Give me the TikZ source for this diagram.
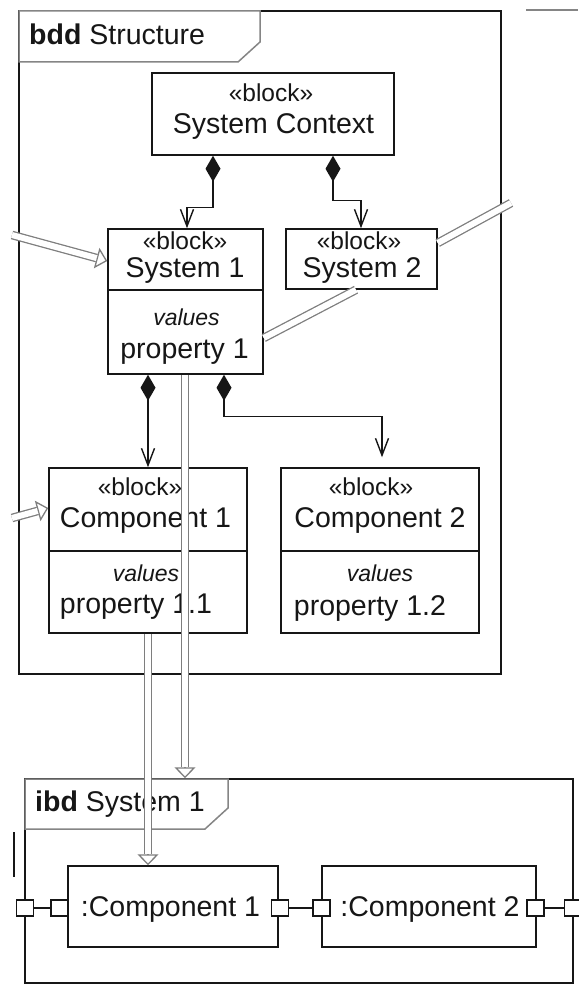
\documentclass[tikz,border=0pt]{standalone}
\usepackage{fontspec}
\setmainfont{Liberation Sans}
\usetikzlibrary{arrows.meta,calc}
\definecolor{ink}{HTML}{161616}
\definecolor{tabgray}{HTML}{858585}
\definecolor{dblgray}{HTML}{7E7E7E}
\begin{document}
\begin{tikzpicture}[x=1pt,y=-1pt,
  frame/.style={draw=ink, line width=1.5pt, rectangle, inner sep=0pt},
  box/.style={draw=ink, line width=1.5pt, rectangle, inner sep=0pt, fill=white},
  tab/.style={draw=tabgray, line width=1.5pt, fill=white},
  div/.style={draw=ink, line width=1.5pt},
  txt/.style={inner sep=0pt, anchor=base, text=ink, font=\fontsize{28.5}{32}\selectfont},
  stereo/.style={txt, font=\fontsize{24.5}{28}\selectfont},
  vals/.style={txt, font=\itshape\fontsize{23}{27}\selectfont},
  comp/.style={draw=ink, line width=1.4pt, arrows={Diamond[length=26pt,width=15pt]-Straight Barb[length=17pt,width=13pt]}},
  dbl/.style={draw=dblgray, line width=1.3pt, double=white, double distance=6pt},
  dblhead/.style={draw=dblgray, line width=1.3pt, line join=miter, -{Triangle[length=11pt,width=21pt,fill=white]}},
  port/.style={draw=ink, line width=1.3pt, fill=white, rectangle, minimum width=17pt, minimum height=16pt, inner sep=0pt},
  conn/.style={draw=ink, line width=1.3pt}]
\useasboundingbox (0,0) rectangle (578,984);

% ---------- bdd frame ----------
\node[frame, minimum width=482pt, minimum height=663pt] (bdd) at (260,342.5) {};
\draw[tab] (19,11) -- (260,11) -- (260,42) -- (238,62) -- (19,62) -- cycle;
\node[txt, anchor=base west] (bddlbl) at (29,45) {\textbf{bdd} Structure};
\draw[tabgray, line width=1.2pt] (526,10) -- (578,10);

% ---------- ibd frame ----------
\node[frame, minimum width=548pt, minimum height=204pt] (ibd) at (299,881) {};
\draw[tab] (25,779) -- (228,779) -- (228,808) -- (205,829) -- (25,829) -- cycle;
\node[txt, anchor=base west] (ibdlbl) at (35,811) {\textbf{ibd} System 1};
\draw[ink, line width=1.5pt] (14,832) -- (14,877);

% ---------- blocks ----------
\node[box, minimum width=242pt, minimum height=82pt] (sc) at (273,114) {};
\node[stereo] (sct1) at (271,102) {«block»};
\node[txt] (sct2) at (273.5,134) {System Context};

\node[box, minimum width=155pt, minimum height=145pt] (sys1) at (185.5,301.5) {};
\draw[div] ([yshift=11.5pt]sys1.west) -- ([yshift=11.5pt]sys1.east);
\node[stereo] (s1t1) at (185,250) {«block»};
\node[txt] (s1t2) at (185,277) {System 1};
\node[vals] (s1t3) at (186.5,325) {values};
\node[txt] (s1t4) at (184.5,358) {property 1};

\node[box, minimum width=151pt, minimum height=60pt] (sys2) at (361.5,259) {};
\node[stereo] (s2t1) at (359,250) {«block»};
\node[txt] (s2t2) at (362,277) {System 2};

\node[box, minimum width=198pt, minimum height=165pt] (comp1) at (148,550.5) {};
\draw[div] ([yshift=-0.5pt]comp1.west) -- ([yshift=-0.5pt]comp1.east);
\node[stereo] (c1t1) at (140,495) {«block»};
\node[txt] (c1t2) at (145.5,527) {Component 1};
\node[vals] (c1t3) at (146,581) {values};
\node[txt] (c1t4) at (136,613) {property 1.1};

\node[box, minimum width=198pt, minimum height=165pt] (comp2) at (380,550.5) {};
\draw[div] ([yshift=-0.5pt]comp2.west) -- ([yshift=-0.5pt]comp2.east);
\node[stereo] (c2t1) at (371,495) {«block»};
\node[txt] (c2t2) at (380,527) {Component 2};
\node[vals] (c2t3) at (380,581) {values};
\node[txt] (c2t4) at (370,615) {property 1.2};

% ---------- parts in ibd ----------
\node[box, minimum width=210pt, minimum height=81pt] (pc1) at (173,906.5) {};
\node[txt] (pc1t) at (170.5,916) {:Component 1};
\node[box, minimum width=214pt, minimum height=81pt] (pc2) at (429,906.5) {};
\node[txt] (pc2t) at (430,916) {:Component 2};

\node[port] (pf1) at (25,908) {};
\node[port] (pa) at (59.5,908) {};
\node[port] (pb) at (280,908) {};
\node[port] (pc) at (321.5,908) {};
\node[port] (pd) at (535.5,908) {};
\node[port] (pf2) at (573,908) {};
\draw[conn] (pf1) -- (pa);
\draw[conn] (pb) -- (pc);
\draw[conn] (pd) -- (pf2);

% ---------- composition ----------
\draw[comp] ([xshift=-60pt]sc.south) -- ++(0,52) -| ([xshift=1.5pt]sys1.north);
\draw[comp] ([xshift=60pt]sc.south) -- ++(0,45) -| ([xshift=-0.5pt]sys2.north);
\draw[comp] (sys1.south -| comp1.north) -- (comp1.north);
\draw[comp, shorten >=10pt] ([xshift=38.5pt]sys1.south) -- ++(0,42) -| ([xshift=2pt]comp2.north);

% ---------- double-line connectors ----------
\coordinate (tA) at (12,235);
\coordinate (tB) at (12,518);
\coordinate (eC) at (511,203);

\draw[dblhead] (tA) -- ([yshift=40.5pt]sys1.west);
\draw[dbl, shorten >=11pt] (tA) -- ([yshift=40.5pt]sys1.west);

\draw[dblhead] (tB) -- ([yshift=42.5pt]comp1.west);
\draw[dbl, shorten >=11pt] (tB) -- ([yshift=42.5pt]comp1.west);

\draw[dbl] ([yshift=16pt]sys2.east) -- (eC);
\draw[dbl] ([xshift=-5.5pt]sys2.south) -- ([yshift=-36.5pt]sys1.east);

\draw[dblhead] ([xshift=-0.5pt]sys1.south) -- ([xshift=-0.5pt]sys1.south |- ibd.north);
\draw[dbl, shorten >=11pt] ([xshift=-0.5pt]sys1.south) -- ([xshift=-0.5pt]sys1.south |- ibd.north);

\draw[dblhead] (comp1.south) -- (comp1.south |- pc1.north);
\draw[dbl, shorten >=11pt] (comp1.south) -- (comp1.south |- pc1.north);
\end{tikzpicture}
\end{document}
